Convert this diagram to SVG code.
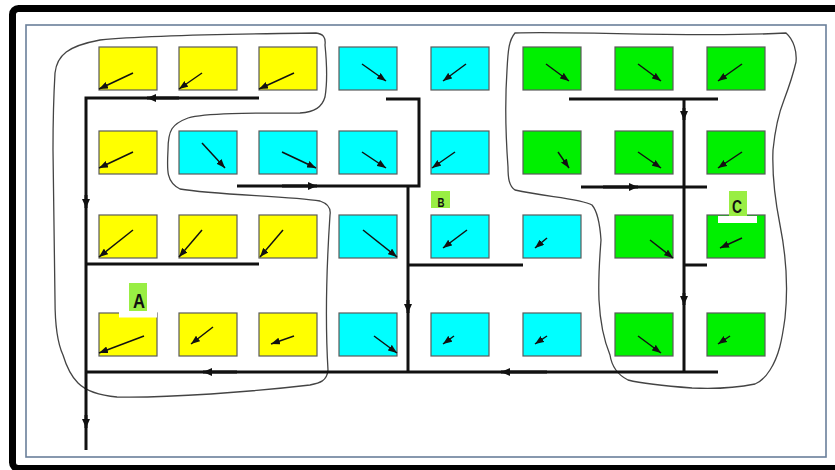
<svg xmlns="http://www.w3.org/2000/svg" width="835" height="470" viewBox="0 0 835 470">
<defs>
<style>
.y{fill:#ffff00;stroke:#5a5a5a;stroke-width:1.2}
.c{fill:#00ffff;stroke:#5a5a5a;stroke-width:1.2}
.g{fill:#00f000;stroke:#5a5a5a;stroke-width:1.2}
.a{stroke:#111;stroke-width:1.5;fill:none;marker-end:url(#ah)}
.ln{stroke:#111;stroke-width:3;fill:none}
.mid{stroke:#111;stroke-width:3;fill:none;marker-end:url(#ch)}
.zone{fill:none;stroke:#444;stroke-width:1.3}
.lbl{fill:#99ee44}
.lt{font-family:"Liberation Sans",Arial,sans-serif;font-weight:bold;fill:#111;text-anchor:middle}
</style>
<marker id="ah" markerUnits="userSpaceOnUse" markerWidth="9" markerHeight="7" viewBox="0 0 9 7" refX="9" refY="3.5" orient="auto"><path d="M0,0 L9,3.5 L0,7 Z" fill="#111"/></marker>
<marker id="ch" markerUnits="userSpaceOnUse" markerWidth="9" markerHeight="8" viewBox="0 0 9 8" refX="9" refY="4" orient="auto"><path d="M0,0 L9,4 L0,8 Z" fill="#111"/></marker>
</defs>
<rect x="0" y="0" width="835" height="470" fill="#ffffff"/>
<rect x="12.5" y="8.5" width="850" height="460" rx="6" fill="#ffffff" stroke="#000" stroke-width="7"/>
<rect x="26" y="25" width="800" height="432" fill="none" stroke="#6a7f9a" stroke-width="1.6"/>

<g id="zones">
<path class="zone" d="M55 73 C57 55 68 46 100 40 C160 34 260 34 316 33 C323 34 326 37 325 45 C327 65 327 85 325 97 C322 107 315 112 300 113 C250 113 205 113 188 118 C172 124 168 130 168 150 C167 170 166 182 180 189 C215 195 290 196 320 201 C329 204 331 209 330 215 C327 260 325 320 328 370 C327 381 320 383 310 385 C250 392 170 398 117 397 C95 395 85 390 78 383 C70 375 66 365 63 355 C56 340 55 320 55 300 L53 150 C53 110 54 90 55 73 Z"/>
<path class="zone" d="M515 33 C580 31 700 38 786 33 C794 40 797 52 796 62 C793 75 790 84 784 100 C778 115 775 130 773 150 C772 175 775 200 780 225 C786 255 788 290 785 318 C782 340 779 356 770 370 C765 378 760 382 755 384 C735 388 712 389 692 388 C665 386 640 383 628 380 C618 375 612 368 610 355 C603 338 600 320 599 300 C598 275 600 255 601 240 C600 225 598 212 592 205 C580 198 545 197 515 190 C509 186 508 178 508 167 C506 140 505 100 507 70 C508 50 509 40 515 33 Z"/>
</g>

<g id="connectors">
<path class="ln" d="M259 98 H86 V450"/>
<path class="ln" d="M86 264 H259"/>
<path class="ln" d="M86 372 H718"/>
<path class="ln" d="M386 99 H419 V186 H237"/>
<path class="ln" d="M408 186 V372"/>
<path class="ln" d="M408 265 H523"/>
<path class="ln" d="M569 99 H718"/>
<path class="ln" d="M684 99 V372"/>
<path class="ln" d="M581 187 H707"/>
<path class="ln" d="M684 265 H707"/>
<path class="mid" d="M179 98 H147"/>
<path class="mid" d="M86 195 V208"/>
<path class="mid" d="M86 415 V428"/>
<path class="mid" d="M237 372 H203"/>
<path class="mid" d="M547 372 H501"/>
<path class="mid" d="M282 186 H317"/>
<path class="mid" d="M408 300 V313"/>
<path class="mid" d="M684 108 V120"/>
<path class="mid" d="M684 293 V305"/>
<path class="mid" d="M603 187 H638"/>
</g>

<g id="r1c1"><rect class="y" x="99" y="47" width="58" height="43"/><path class="a" d="M133 73 L99 89"/></g>
<g id="r1c2"><rect class="y" x="179" y="47" width="58" height="43"/><path class="a" d="M202 73 L179 89"/></g>
<g id="r1c3"><rect class="y" x="259" y="47" width="58" height="43"/><path class="a" d="M294 73 L259 89"/></g>
<g id="r1c4"><rect class="c" x="339" y="47" width="58" height="43"/><path class="a" d="M362 64 L386 81"/></g>
<g id="r1c5"><rect class="c" x="431" y="47" width="58" height="43"/><path class="a" d="M466 64 L443 81"/></g>
<g id="r1c6"><rect class="g" x="523" y="47" width="58" height="43"/><path class="a" d="M546 64 L569 81"/></g>
<g id="r1c7"><rect class="g" x="615" y="47" width="58" height="43"/><path class="a" d="M638 64 L661 81"/></g>
<g id="r1c8"><rect class="g" x="707" y="47" width="58" height="43"/><path class="a" d="M742 64 L718 81"/></g>

<g id="r2c1"><rect class="y" x="99" y="131" width="58" height="43"/><path class="a" d="M133 152 L99 168"/></g>
<g id="r2c2"><rect class="c" x="179" y="131" width="58" height="43"/><path class="a" d="M202 143 L225 168"/></g>
<g id="r2c3"><rect class="c" x="259" y="131" width="58" height="43"/><path class="a" d="M282 152 L316 168"/></g>
<g id="r2c4"><rect class="c" x="339" y="131" width="58" height="43"/><path class="a" d="M362 152 L386 168"/></g>
<g id="r2c5"><rect class="c" x="431" y="131" width="58" height="43"/><path class="a" d="M455 152 L432 168"/></g>
<g id="r2c6"><rect class="g" x="523" y="131" width="58" height="43"/><path class="a" d="M558 152 L569 168"/></g>
<g id="r2c7"><rect class="g" x="615" y="131" width="58" height="43"/><path class="a" d="M638 152 L661 168"/></g>
<g id="r2c8"><rect class="g" x="707" y="131" width="58" height="43"/><path class="a" d="M742 152 L718 168"/></g>

<g id="r3c1"><rect class="y" x="99" y="215" width="58" height="43"/><path class="a" d="M133 230 L99 257"/></g>
<g id="r3c2"><rect class="y" x="179" y="215" width="58" height="43"/><path class="a" d="M202 230 L179 257"/></g>
<g id="r3c3"><rect class="y" x="259" y="215" width="58" height="43"/><path class="a" d="M283 230 L260 257"/></g>
<g id="r3c4"><rect class="c" x="339" y="215" width="58" height="43"/><path class="a" d="M363 230 L397 257"/></g>
<g id="r3c5"><rect class="c" x="431" y="215" width="58" height="43"/><path class="a" d="M467 230 L443 248"/></g>
<g id="r3c6"><rect class="c" x="523" y="215" width="58" height="43"/><path class="a" d="M547 238 L535 248"/></g>
<g id="r3c7"><rect class="g" x="615" y="215" width="58" height="43"/><path class="a" d="M650 240 L673 258"/></g>
<g id="r3c8"><rect class="g" x="707" y="215" width="58" height="43"/><path class="a" d="M742 238 L720 248"/></g>

<g id="r4c1"><rect class="y" x="99" y="313" width="58" height="43"/><path class="a" d="M144 336 L99 353"/></g>
<g id="r4c2"><rect class="y" x="179" y="313" width="58" height="43"/><path class="a" d="M213 327 L191 344"/></g>
<g id="r4c3"><rect class="y" x="259" y="313" width="58" height="43"/><path class="a" d="M294 336 L271 344"/></g>
<g id="r4c4"><rect class="c" x="339" y="313" width="58" height="43"/><path class="a" d="M374 336 L397 353"/></g>
<g id="r4c5"><rect class="c" x="431" y="313" width="58" height="43"/><path class="a" d="M454 336 L443 344"/></g>
<g id="r4c6"><rect class="c" x="523" y="313" width="58" height="43"/><path class="a" d="M547 336 L535 344"/></g>
<g id="r4c7"><rect class="g" x="615" y="313" width="58" height="43"/><path class="a" d="M638 336 L661 353"/></g>
<g id="r4c8"><rect class="g" x="707" y="313" width="58" height="43"/><path class="a" d="M730 336 L718 344"/></g>

<g id="labelA"><rect x="119" y="311" width="38" height="6.5" fill="#ffffff"/><rect class="lbl" x="129" y="283" width="18" height="28"/><text class="lt" x="139" y="307.5" font-size="21" textLength="12" lengthAdjust="spacingAndGlyphs">A</text></g>
<g id="labelB"><rect class="lbl" x="431" y="191" width="19" height="17"/><text class="lt" x="441" y="206.5" font-size="13.5" textLength="7" lengthAdjust="spacingAndGlyphs">B</text></g>
<g id="labelC"><rect x="718" y="216" width="39" height="7" fill="#ffffff"/><rect class="lbl" x="729" y="191" width="18" height="25"/><text class="lt" x="737" y="212.5" font-size="19" textLength="10" lengthAdjust="spacingAndGlyphs">C</text></g>
</svg>
